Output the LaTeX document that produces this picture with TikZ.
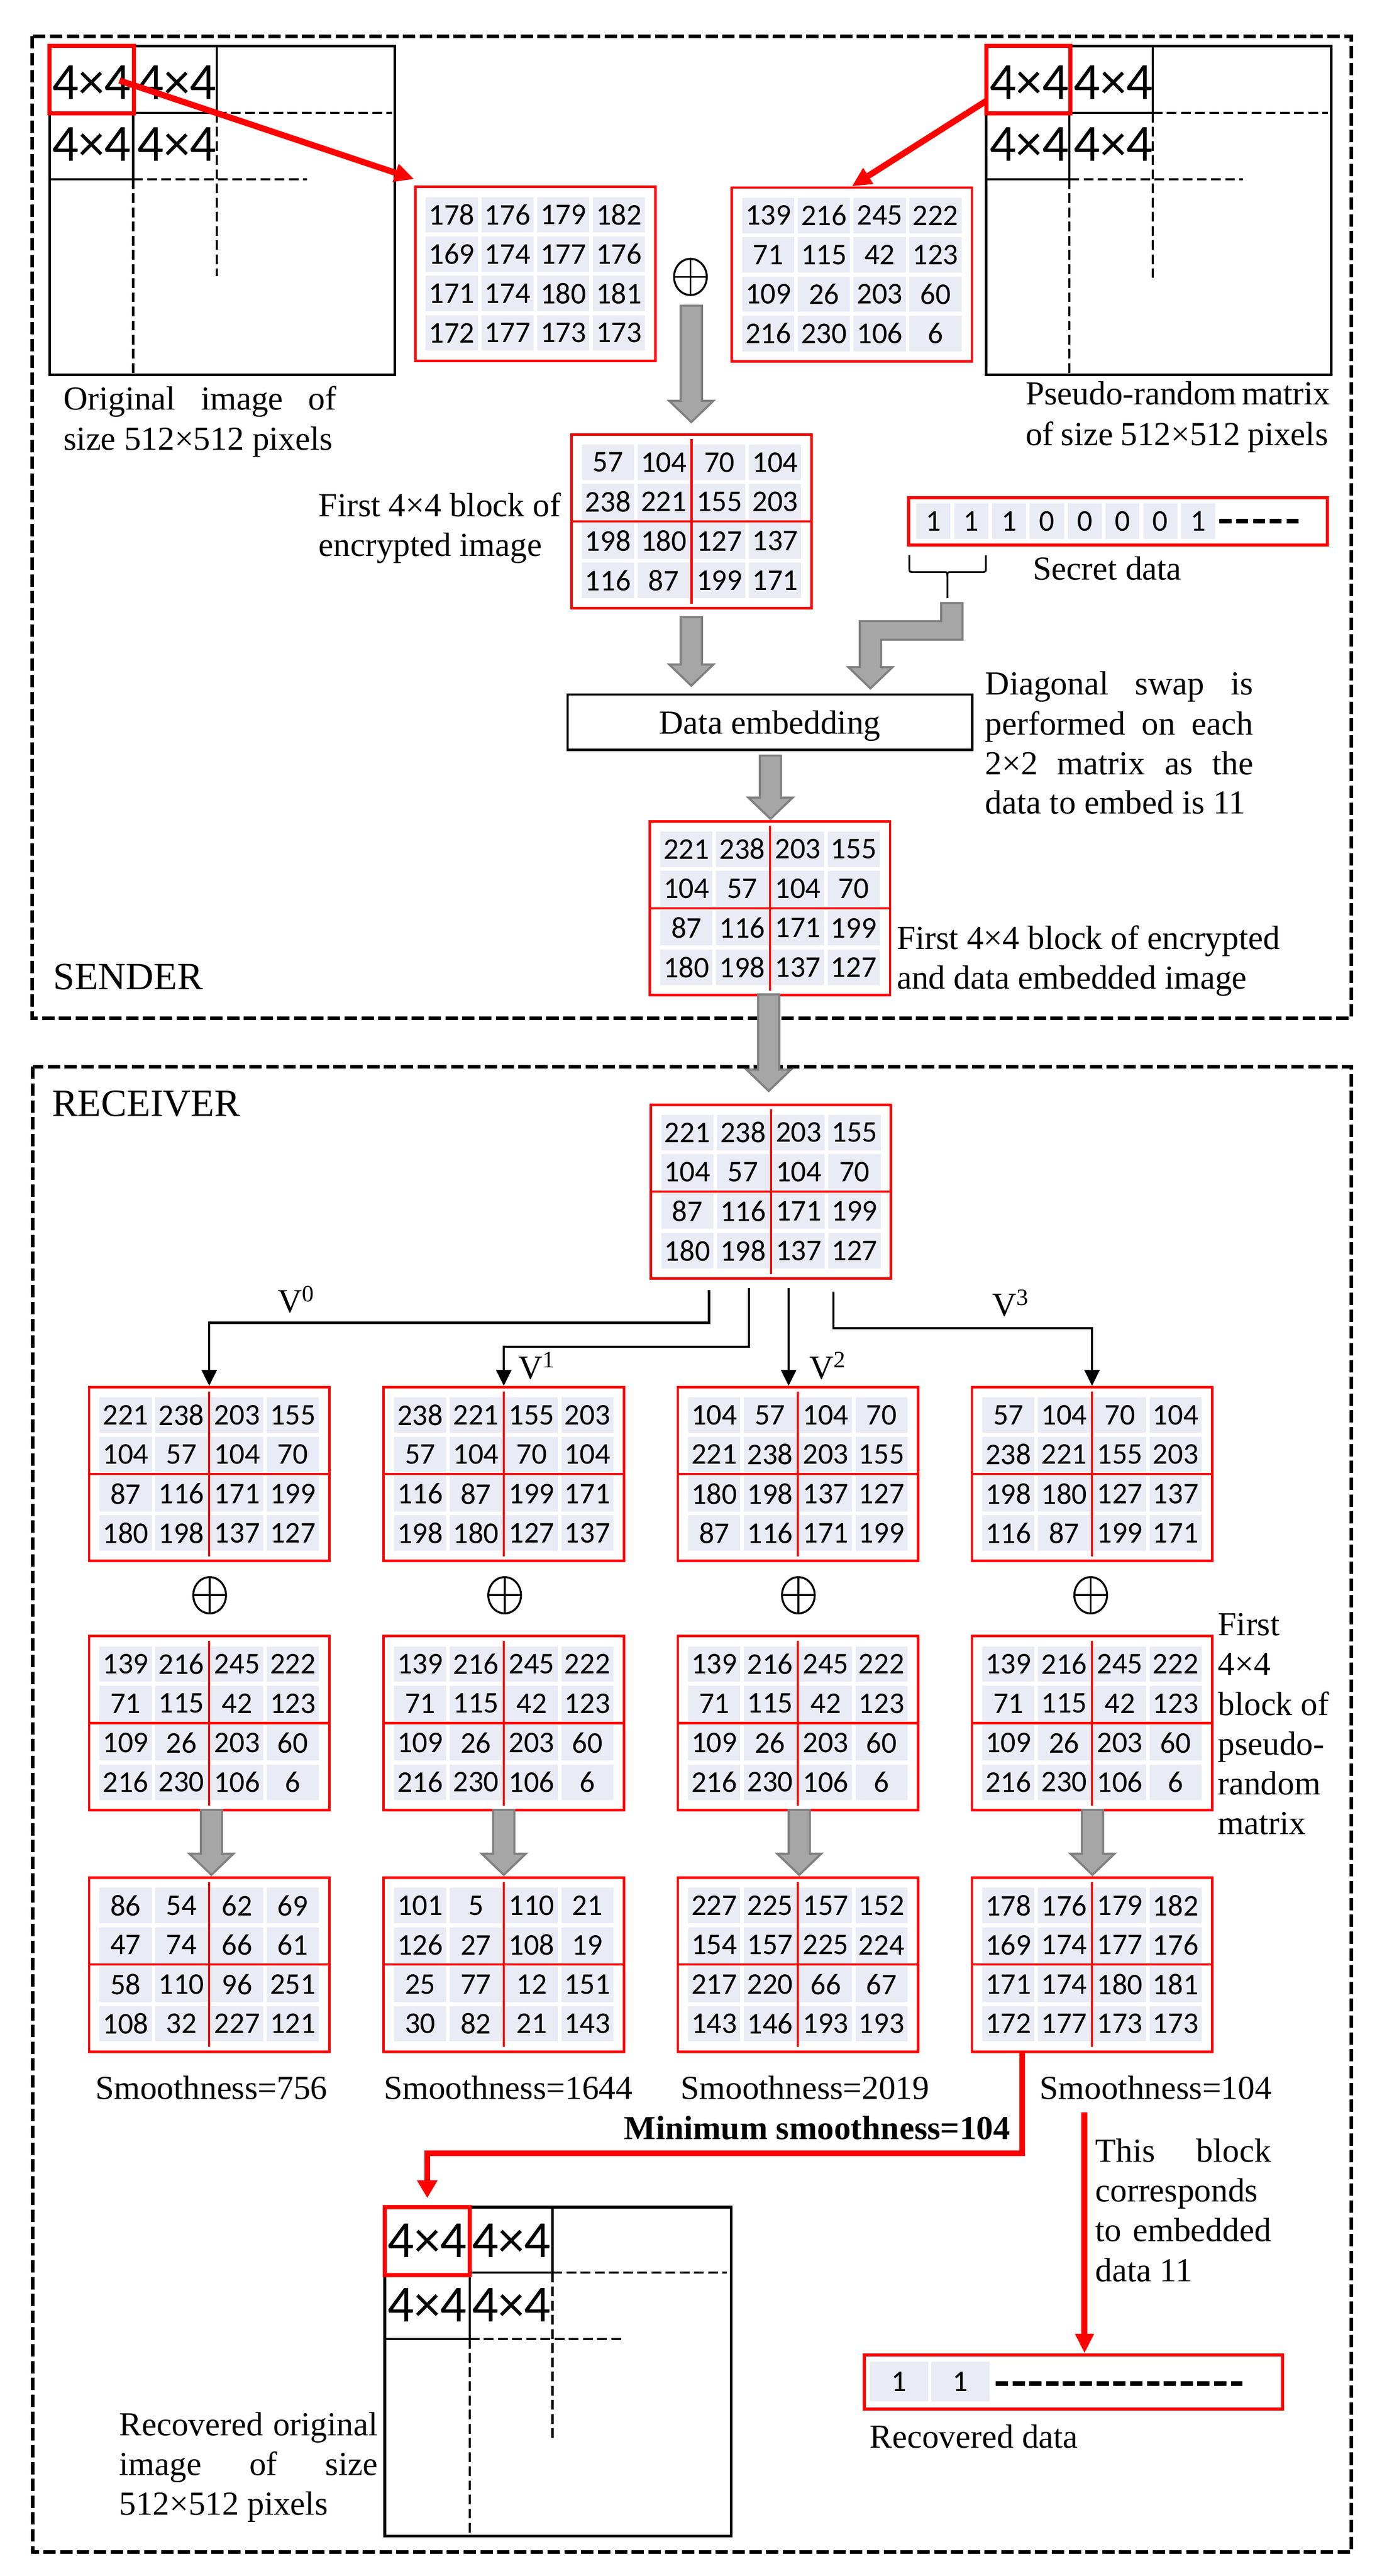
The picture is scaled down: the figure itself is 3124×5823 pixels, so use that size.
\documentclass[tikz,border=0pt]{standalone}
\usepackage{fontspec}
\setmainfont{Liberation Serif}
\newfontfamily\calib{Carlito}
\usetikzlibrary{arrows.meta,calc,shapes.geometric}

\definecolor{cellc}{RGB}{233,235,245}
\definecolor{garr}{RGB}{166,166,166}
\definecolor{garrb}{RGB}{128,128,128}
\definecolor{myred}{RGB}{255,0,0}

\tikzset{
  dashbox/.style={line width=2pt, dash pattern=on 7pt off 2.5pt},
  solidl/.style={line width=1.25pt},
  dashl/.style={line width=1.25pt, dash pattern=on 5.5pt off 2.5pt},
  imgbox/.style={draw, line width=1.5pt, inner sep=0pt},
  redblk/.style={draw=myred, line width=2.25pt, inner sep=0pt},
  big/.style={inner sep=0pt, font=\calib\fontsize{29.5pt}{30pt}\selectfont},
  lbl/.style={inner sep=0pt, anchor=base west, font=\fontsize{19pt}{22.5pt}\selectfont},
  cellnode/.style={fill=cellc, minimum width=29.5pt, minimum height=20pt, inner sep=0pt, font=\calib\fontsize{17pt}{20pt}\selectfont},
  matbox/.style={draw=myred, line width=1.4pt, minimum width=135.75pt, minimum height=98.25pt, inner sep=0pt},
  crossline/.style={draw=myred, line width=1.2pt},
  grayarrow/.style={fill=garr, draw=garrb, line width=1.2pt},
  oplus/.style={ellipse, draw, line width=1.1pt, minimum width=18.5pt, minimum height=20.5pt, inner sep=0pt,
    path picture={\draw[line width=1.1pt] (path picture bounding box.north) -- (path picture bounding box.south)
      (path picture bounding box.west) -- (path picture bounding box.east);}},
  conn/.style={line width=1.25pt, -{Triangle[length=9pt,width=8.5pt]}},
  redarrow/.style={draw=myred, line width=3.5pt, -{Triangle[length=11pt,width=10pt]}},
  redpath/.style={draw=myred, line width=3.25pt, line join=miter, -{Triangle[length=10pt,width=11pt]}},
  digcell/.style={fill=cellc, inner sep=0pt, font=\calib\fontsize{17pt}{20pt}\selectfont},
  redbox/.style={draw=myred, line width=1.75pt, inner sep=0pt},
  bardash/.style={line width=2.5pt, dash pattern=on 6.75pt off 2.75pt},
  embbox/.style={draw, line width=1.25pt, minimum width=228.75pt, minimum height=31.25pt, inner sep=0pt,
    text height=16pt, text depth=2.75pt, font=\fontsize{19pt}{22.5pt}\selectfont},
}

\newcommand\drawmat[5]{%
  \node[matbox] (#1) at (#2,#3) {};
  \foreach \val [count=\i from 0] in {#5}{%
    \pgfmathtruncatemacro\cc{mod(\i,4)}%
    \pgfmathtruncatemacro\rr{\i/4}%
    \node[cellnode] (#1-\rr-\cc) at ($(#1.center)+({(\cc-1.5)*126},{(\rr-1.5)*89})$) {\val};%
  }%
  \ifnum#4=1\relax
    \draw[crossline] ($(#1.north)+(0,13)$) -- ($(#1.south)+(0,-13)$);%
    \draw[crossline] (#1.west) -- (#1.east);%
  \fi
}
\newcommand\garrow[3]{% x, ytop, ytip
  \path[grayarrow] (#1-24,#2) -- (#1+24,#2) -- (#1+24,#3-48) -- (#1+50,#3-48) -- (#1,#3)
    -- (#1-50,#3-48) -- (#1-24,#3-48) -- cycle;
}
\newcommand\jl[5]{\node[lbl] (#1) at (#2,#3) {\makebox[#4][s]{#5}};}

\begin{document}
\begin{tikzpicture}[x=0.25pt,y=-0.25pt]
\useasboundingbox (0,0) rectangle (3124,5823);
\fill[white] (0,0) rectangle (3124,5823);

% section frames
\draw[dashbox] (73,82) rectangle (3055,2302);
\draw[dashbox] (74,2411) rectangle (3055,5769);
\node[lbl, font=\fontsize{21.75pt}{25pt}\selectfont] (sender) at (120,2237) {SENDER};
\node[lbl, font=\fontsize{21.75pt}{25pt}\selectfont] (receiver) at (117,2523) {RECEIVER};

% ---------- original image ----------
\node[imgbox, minimum width=195.25pt, minimum height=185.75pt] (orig) at (502.5,475.5) {};
\draw[solidl] (490,104) -- (490,255);
\draw[dashl] (490,255) -- (490,624);
\draw[solidl] (112,255) -- (490,255);
\draw[dashl] (490,255) -- (886,255);
\draw[solidl] (112,405) -- (301,405);
\draw[dashl] (301,405) -- (694,405);
\draw[solidl] (301,104) -- (301,405);
\draw[dashl] (301,405) -- (301,847);
\node[big] (o11) at (207,186) {4×4};
\node[big] (o12) at (400,186) {4×4};
\node[big] (o21) at (207,326) {4×4};
\node[big] (o22) at (400,326) {4×4};
\node[redblk, minimum width=47.75pt, minimum height=38pt] (origblk) at (207.5,180) {};
\jl{t1}{143}{927}{154.25pt}{Original image of}
\node[lbl] (t2) at (143,1017) {size 512×512 pixels};

% ---------- pseudo-random matrix ----------
\node[imgbox, minimum width=195pt, minimum height=185.75pt] (pseudo) at (2620,475.5) {};
\draw[solidl] (2606,104) -- (2606,255);
\draw[dashl] (2606,255) -- (2606,628);
\draw[solidl] (2418,255) -- (2606,255);
\draw[dashl] (2606,255) -- (3002,255);
\draw[solidl] (2230,405) -- (2418,405);
\draw[dashl] (2418,405) -- (2810,405);
\draw[solidl] (2418,104) -- (2418,405);
\draw[dashl] (2418,405) -- (2418,847);
\node[big] (p11) at (2327,186) {4×4};
\node[big] (p12) at (2517,186) {4×4};
\node[big] (p21) at (2327,326) {4×4};
\node[big] (p22) at (2517,326) {4×4};
\node[redblk, minimum width=47.5pt, minimum height=38pt] (pseudoblk) at (2325,180) {};
\jl{t3}{2318}{915}{171pt}{Pseudo-random matrix}
\jl{t4}{2318}{1007}{171pt}{of size 512×512 pixels}

% ---------- first blocks ----------
\drawmat{ma}{1210.5}{619}{0}{178,176,179,182,169,174,177,176,171,174,180,181,172,177,173,173}
\drawmat{mb}{1926}{620.5}{0}{139,216,245,222,71,115,42,123,109,26,203,60,216,230,106,6}
\node[oplus] (xor0) at (1561,626) {};

\coordinate (oa) at (270,182);
\draw[redarrow] (oa) -- ($(ma.north west)+(0,-15)$);
\coordinate (pa) at (2230,228);
\draw[redarrow] (pa) -- (mb.north);

\garrow{1563}{691}{954}

% encrypted block
\drawmat{menc}{1563.5}{1178.5}{1}{57,104,70,104,238,221,155,203,198,180,127,137,116,87,199,171}
\node[lbl] (t5) at (720,1168) {First 4×4 block of};
\node[lbl] (t6) at (720,1257) {encrypted image};

% secret data
\node[redbox, minimum width=236.75pt, minimum height=26.75pt] (sd) at (2527.5,1178.5) {};
\foreach \b [count=\k from 0] in {1,1,1,0,0,0,0,1}{
  \node[digcell, minimum width=19.25pt, minimum height=20pt] (sd\k) at (2110.5+\k*85.5,1178) {\b};
}
\draw[bardash] (2757,1178) -- (2936,1178);
\node[lbl] (t7) at (2335,1311) {Secret data};
\draw[line width=1pt] (2056,1255) -- (2056,1284) .. controls (2056,1293) .. (2066,1293) -- (2132,1293)
  .. controls (2142,1293) .. (2142,1303) -- (2142,1352);
\draw[line width=1pt] (2229,1255) -- (2229,1284) .. controls (2229,1293) .. (2219,1293) -- (2152,1293)
  .. controls (2142,1293) .. (2142,1303);

% arrows to data embedding
\garrow{1563}{1395}{1550}
\path[grayarrow] (2128,1363) -- (2176,1363) -- (2176,1446) -- (1992,1446) -- (1992,1508) -- (2018,1508)
  -- (1968,1556) -- (1918,1508) -- (1944,1508) -- (1944,1404) -- (2128,1404) -- cycle;

\node[embbox] (de) at (1740.5,1632.5) {Data embedding};
\jl{t8}{2227}{1571}{151.5pt}{Diagonal swap is}
\jl{t9}{2227}{1661}{151.5pt}{performed on each}
\jl{t10}{2227}{1751}{151.5pt}{2×2 matrix as the}
\node[lbl] (t11) at (2227,1840) {data to embed is 11};

\garrow{1742}{1708}{1851}
\drawmat{memb}{1741}{2053}{1}{221,238,203,155,104,57,104,70,87,116,171,199,180,198,137,127}
\node[lbl] (t12) at (2027,2146) {First 4×4 block of encrypted};
\node[lbl] (t13) at (2027,2235) {and data embedded image};

\garrow{1738}{2248}{2466}

% ---------- receiver ----------
\drawmat{mrec}{1743}{2693.5}{1}{221,238,203,155,104,57,104,70,87,116,171,199,180,198,137,127}

\drawmat{ra0}{473}{3332}{1}{221,238,203,155,104,57,104,70,87,116,171,199,180,198,137,127}
\drawmat{ra1}{1139}{3332}{1}{238,221,155,203,57,104,70,104,116,87,199,171,198,180,127,137}
\drawmat{ra2}{1804}{3332}{1}{104,57,104,70,221,238,203,155,180,198,137,127,87,116,171,199}
\drawmat{ra3}{2469}{3332}{1}{57,104,70,104,238,221,155,203,198,180,127,137,116,87,199,171}

\coordinate (v0s) at (1603,2916);
\coordinate (v1s) at (1693,2912);
\coordinate (v2s) at (1783,2912);
\coordinate (v3s) at (1884,2920);
\draw[conn] (v0s) -- ++(0,74) -| (ra0.north);
\draw[conn] (v1s) -- ++(0,132) -| (ra1.north);
\draw[conn] (v2s) -- (v2s |- ra2.north);
\draw[conn] (v3s) -- ++(0,82) -| (ra3.north);
\node[lbl] (lv0) at (627,2967) {V\textsuperscript{0}};
\node[lbl] (lv1) at (1171,3117) {V\textsuperscript{1}};
\node[lbl] (lv2) at (1829,3117) {V\textsuperscript{2}};
\node[lbl] (lv3) at (2243,2975) {V\textsuperscript{3}};

\node[oplus] (xa0) at (474,3606) {};
\node[oplus] (xa1) at (1141,3606) {};
\node[oplus] (xa2) at (1805,3606) {};
\node[oplus] (xa3) at (2466,3606) {};

\drawmat{rb0}{473}{3895}{1}{139,216,245,222,71,115,42,123,109,26,203,60,216,230,106,6}
\drawmat{rb1}{1139}{3895}{1}{139,216,245,222,71,115,42,123,109,26,203,60,216,230,106,6}
\drawmat{rb2}{1804}{3895}{1}{139,216,245,222,71,115,42,123,109,26,203,60,216,230,106,6}
\drawmat{rb3}{2469}{3895}{1}{139,216,245,222,71,115,42,123,109,26,203,60,216,230,106,6}

\node[lbl] (f1) at (2753,3697) {First};
\node[lbl] (f2) at (2753,3787) {4×4};
\node[lbl] (f3) at (2753,3877) {block of};
\node[lbl] (f4) at (2753,3967) {pseudo-};
\node[lbl] (f5) at (2753,4057) {random};
\node[lbl] (f6) at (2753,4147) {matrix};

\garrow{478}{4091}{4238}
\garrow{1139}{4091}{4238}
\garrow{1807}{4091}{4238}
\garrow{2470}{4091}{4238}

\drawmat{rc0}{473}{4441}{1}{86,54,62,69,47,74,66,61,58,110,96,251,108,32,227,121}
\drawmat{rc1}{1139}{4441}{1}{101,5,110,21,126,27,108,19,25,77,12,151,30,82,21,143}
\drawmat{rc2}{1804}{4441}{1}{227,225,157,152,154,157,225,224,217,220,66,67,143,146,193,193}
\drawmat{rc3}{2469}{4441}{1}{178,176,179,182,169,174,177,176,171,174,180,181,172,177,173,173}

\node[lbl] (s0) at (215,4745) {Smoothness=756};
\node[lbl] (s1) at (867,4745) {Smoothness=1644};
\node[lbl] (s2) at (1538,4745) {Smoothness=2019};
\node[lbl] (s3) at (2350,4745) {Smoothness=104};
\node[lbl, font=\bfseries\fontsize{19pt}{22.5pt}\selectfont] (minsm) at (1410,4836) {Minimum smoothness=104};

% ---------- recovered image ----------
\node[imgbox, minimum width=195.75pt, minimum height=186pt] (recimg) at (1261.5,5361) {};
\draw[solidl] (1249,4989) -- (1249,5137);
\draw[dashl] (1249,5137) -- (1249,5513);
\draw[solidl] (1062,5137) -- (1249,5137);
\draw[dashl] (1249,5137) -- (1643,5137);
\draw[solidl] (870,5287) -- (1062,5287);
\draw[dashl] (1062,5287) -- (1410,5287);
\draw[solidl] (1062,4989) -- (1062,5287);
\draw[dashl] (1062,5287) -- (1062,5733);
\node[big] (r11) at (966,5065) {4×4};
\node[big] (r12) at (1156,5065) {4×4};
\node[big] (r21) at (966,5210) {4×4};
\node[big] (r22) at (1156,5210) {4×4};
\node[redblk, minimum width=48pt, minimum height=38.5pt] (recblk) at (966,5066) {};

\draw[redpath, shorten >=4pt] ($(rc3.south)+(-158,0)$) -- ++(0,227) -| (recblk.north);

\jl{rt1}{269}{5505}{146pt}{Recovered original}
\jl{rt2}{269}{5595}{146pt}{image of size}
\node[lbl] (rt3) at (269,5685) {512×512 pixels};

% recovered data
\node[redbox, minimum width=236.5pt, minimum height=30.75pt] (rd) at (2427,5384.5) {};
\node[digcell, minimum width=32.75pt, minimum height=22.25pt] (rd0) at (2032.5,5383.5) {1};
\node[digcell, minimum width=32.75pt, minimum height=22.25pt] (rd1) at (2171.5,5383.5) {1};
\draw[bardash, dash pattern=on 7pt off 2.5pt] (2251,5388) -- (2809,5388);
\node[lbl] (rdl) at (1966,5533) {Recovered data};

\coordinate (tbs) at (2452,4775);
\draw[redarrow] (tbs) -- (tbs |- rd.north);
\jl{c1}{2476}{4887}{99.25pt}{This block}
\node[lbl] (c2) at (2476,4977) {corresponds};
\jl{c3}{2476}{5067}{99.25pt}{to embedded}
\node[lbl] (c4) at (2476,5157) {data 11};
\end{tikzpicture}
\end{document}
